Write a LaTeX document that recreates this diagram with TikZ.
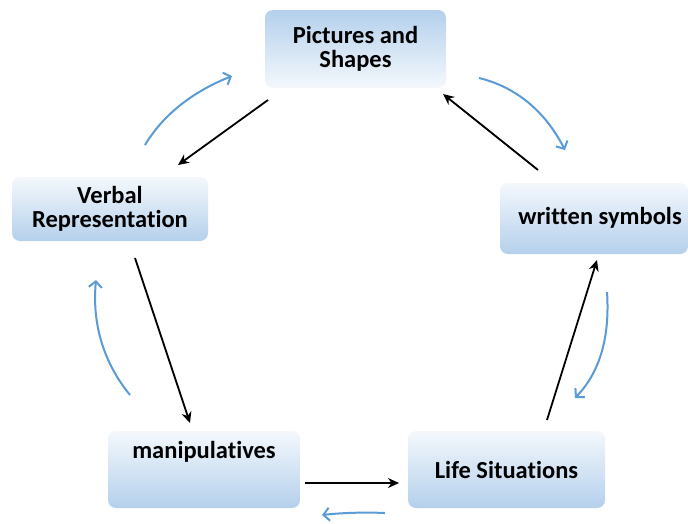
\documentclass[tikz,border=0pt]{standalone}
\usepackage{fontspec}
\setmainfont[Ligatures=NoCommon]{Carlito}
\usetikzlibrary{arrows.meta,calc}
\definecolor{boxblue}{HTML}{B4D0EC}
\definecolor{boxlight}{HTML}{F4F8FC}
\definecolor{cyc}{HTML}{5B9BD5}
\tikzset{
  box/.style={rounded corners=8pt, inner sep=0pt, align=center, font=\bfseries\fontsize{24.5}{24.5}\selectfont},
  boxdown/.style={box, top color=boxlight, bottom color=boxblue},
  boxup/.style={box, top color=boxblue, bottom color=boxlight},
  lbl/.style={inner sep=0pt, align=center, font=\bfseries\fontsize{24.5}{24.5}\selectfont},
  flow/.style={line width=1.8pt, -{Stealth[length=11pt,width=10pt]}},
  cycle/.style={draw=cyc, line width=2pt, -{Straight Barb[length=6pt,width=13pt]}}
}
\begin{document}
\begin{tikzpicture}[x=1pt,y=-1pt]
\useasboundingbox[fill=white] (0,0) rectangle (688,523);
\begin{scope}
\clip (0,0) rectangle (688,523);
\node[boxup, minimum width=181pt, minimum height=78pt] (pic) at (355.5,49) {Pictures and\\Shapes};
\node[boxdown, minimum width=196pt, minimum height=64pt] (verb) at (110,209) {Verbal\\Representation};
\node[boxdown, minimum width=188pt, minimum height=71pt] (writ) at (594,218.5) {};
\node[lbl] (writT) at (600,218) {written symbols};
\node[boxdown, minimum width=192pt, minimum height=77pt] (man) at (204,469.5) {};
\node[lbl] (manT) at (204,452) {manipulatives};
\node[boxdown, minimum width=197pt, minimum height=77pt] (life) at (506.5,469.5) {Life Situations};
\end{scope}
% black flow arrows
\coordinate (a1) at (268,100); \coordinate (b1) at (178,165);
\coordinate (a2) at (135,258); \coordinate (b2) at (190,423);
\coordinate (a3) at (305,483); \coordinate (b3) at (399,483);
\coordinate (a4) at (547,420); \coordinate (b4) at (597,260);
\coordinate (a5) at (538,170); \coordinate (b5) at (443,94);
\draw[flow] (a1) -- (b1);
\draw[flow] (a2) -- (b2);
\draw[flow] (a3) -- (b3);
\draw[flow] (a4) -- (b4);
\draw[flow] (a5) -- (b5);
% blue cycle arrows
\coordinate (c1) at (145,145); \coordinate (d1) at (232,76);
\coordinate (c2) at (479,78); \coordinate (d2) at (565,150);
\coordinate (c3) at (607,292); \coordinate (d3) at (575,398);
\coordinate (c4) at (385,513); \coordinate (d4) at (322,515);
\coordinate (c5) at (130,395); \coordinate (d5) at (96,280);
\draw[cycle] (c1) .. controls (163,115) and (192,92) .. (d1);
\draw[cycle] (c2) .. controls (516,87) and (545,111) .. (d2);
\draw[cycle] (c3) .. controls (610,337) and (600,372) .. (d3);
\draw[cycle] (c4) .. controls (362,512) and (340,513) .. (d4);
\draw[cycle] (c5) .. controls (103,362) and (92,323) .. (d5);
\end{tikzpicture}
\end{document}
